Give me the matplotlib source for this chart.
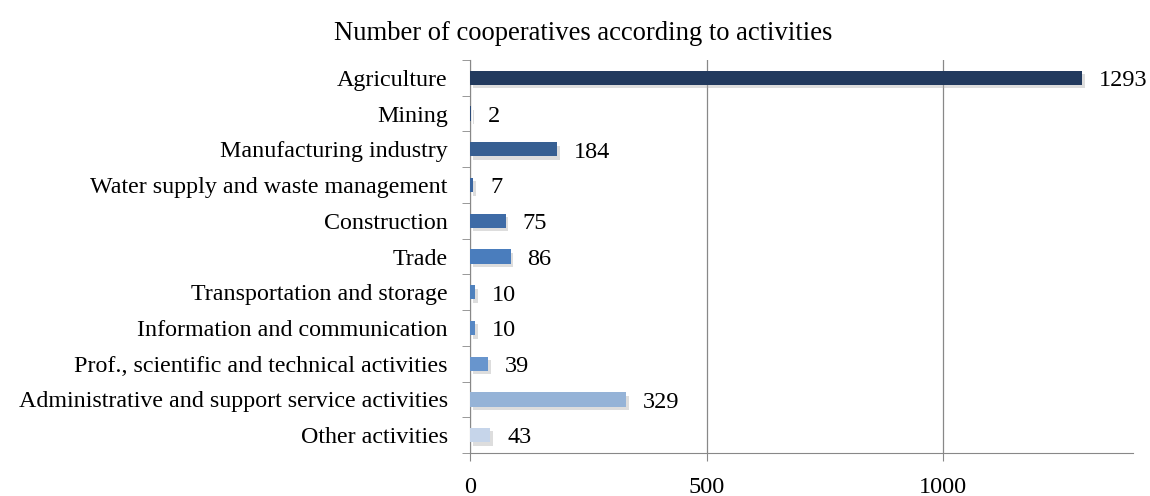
import matplotlib.pyplot as plt
import matplotlib.patheffects as pe
import numpy as np

categories = ['Agriculture', 'Mining', 'Manufacturing industry',
              'Water supply and waste management', 'Construction', 'Trade',
              'Transportation and storage', 'Information and communication',
              'Prof., scientific and technical activities',
              'Administrative and support service activities', 'Other activities']
values = [1293, 2, 184, 7, 75, 86, 10, 10, 39, 329, 43]
colors = ['#223a5e', '#2b4a76', '#375f92', '#3b66a0', '#3e6ba6', '#4a7dbd',
          '#4f81bd', '#5687c4', '#6895cd', '#95b3d7', '#c6d5ea']

plt.rcParams['font.family'] = ['Liberation Serif', 'DejaVu Serif']

fig = plt.figure(figsize=(11.5, 4.96), dpi=100)
ax = fig.add_axes([0.4087, 0.0867, 0.985 - 0.4087, 0.879 - 0.0867])

y = np.arange(len(categories))
bars = ax.barh(y, values, height=0.4, color=colors, zorder=3)
for b in bars:
    b.set_path_effects([pe.SimplePatchShadow(offset=(2, -2.5), shadow_rgbFace='#aaaaaa', alpha=0.4),
                        pe.Normal()])
for yi, v in zip(y, values):
    ax.annotate(str(v), xy=(v, yi), xytext=(12, -2), textcoords='offset points',
                va='center', ha='left', fontsize=17.5)

ax.set_ylim(len(categories) - 0.5, -0.5)
ax.set_xlim(0, 1400)
ax.set_xticks([0, 500, 1000])
ax.set_yticks(y)
ax.set_yticklabels(categories, fontsize=17.3)
ax.set_yticks(np.arange(-0.5, len(categories)), minor=True)
ax.tick_params(axis='y', which='major', length=0, pad=16)
ax.tick_params(axis='y', which='minor', length=6, color='#888888', direction='out')
ax.tick_params(axis='x', length=6, color='#888888', labelsize=17.5, pad=11)
ax.grid(axis='x', color='#888888', linewidth=0.9, zorder=0)
for s in ['top', 'right']:
    ax.spines[s].set_visible(False)
for s in ['left', 'bottom']:
    ax.spines[s].set_color('#888888')

fig.suptitle('Number of cooperatives according to activities', fontsize=19.2, x=0.507, y=0.958)

fig.savefig('out.png')
